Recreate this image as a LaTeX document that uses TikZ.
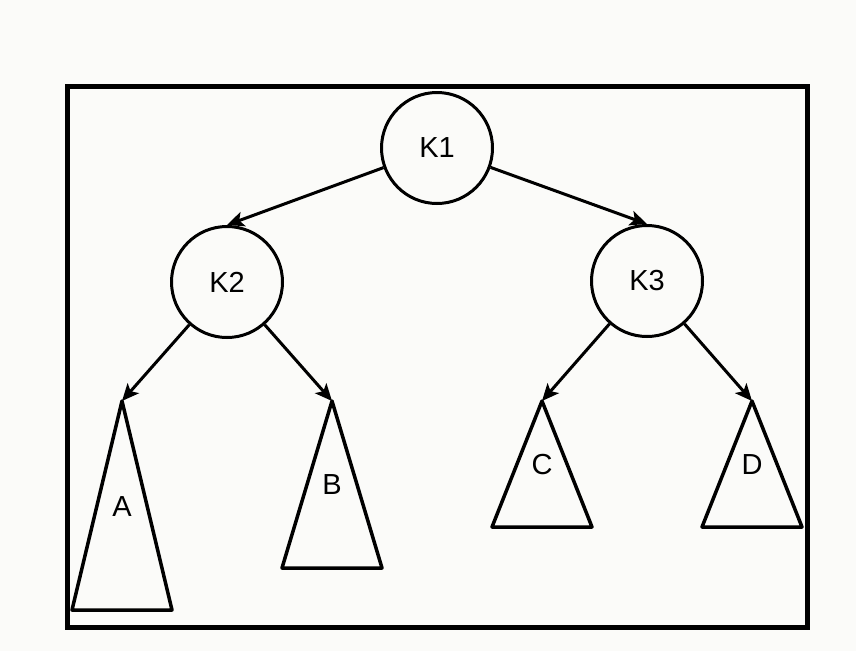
\documentclass[tikz,border=0pt]{standalone}
\usepackage{fontspec}
\setmainfont{Liberation Sans}
\usetikzlibrary{arrows.meta}
\definecolor{paper}{RGB}{251,251,249}

\begin{document}
\begin{tikzpicture}[x=1pt, y=-1pt, >={Stealth[length=17pt,width=15pt,inset=4pt]},
  key/.style={circle, draw, line width=3pt, minimum size=111pt, inner sep=0pt, font=\fontsize{29}{31}\selectfont},
  link/.style={->, line width=3pt}]
\fill[paper] (0,0) rectangle (856,651);
\useasboundingbox (0,0) rectangle (856,651);
\draw[line width=5pt] (67,86) rectangle (807,627);
\node[key] (K1) at (437,148) {K1};
\node[key] (K2) at (227,282) {K2};
\node[key] (K3) at (647,281) {K3};
\foreach \t/\x/\b/\ty  in  {A/122/610/507, B/332/568/485, C/542/527/465, D/752/527/465} {
 \coordinate (\t) at (\x,401);
 \draw[line width=3.5pt, line join=round] (\t) -- (\x-50,\b) -- (\x+50,\b) -- cycle;
 \node[font=\fontsize{29}{31}\selectfont] (\t txt) at (\x,\ty) {\t};
}
\draw[link] (K1) -- (K2.north);
\draw[link] (K1) -- (K3.north);
\draw[link] (K2) -- (A);
\draw[link] (K2) -- (B);
\draw[link] (K3) -- (C);
\draw[link] (K3) -- (D);
\end{tikzpicture}
\end{document}
